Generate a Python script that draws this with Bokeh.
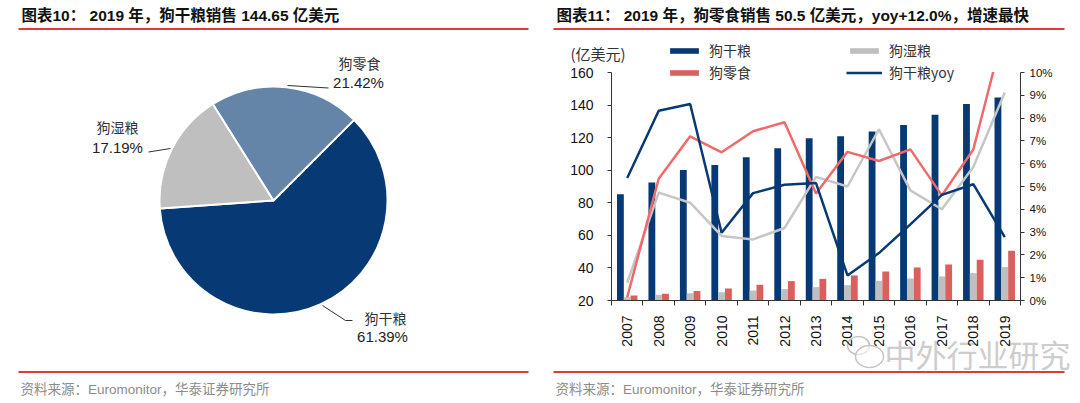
import numpy as np
from bokeh.plotting import figure
from bokeh.layouts import row
from bokeh.models import (Range1d, LinearAxis, FixedTicker, PrintfTickFormatter,
                          Legend, LegendItem, ColumnDataSource, BoxAnnotation)
from bokeh.transform import dodge
from bokeh.core.properties import value
from bokeh.embed import file_html
from bokeh.resources import INLINE

# ---------------- data ----------------
pie_labels = ["狗干粮", "狗湿粮", "狗零食"]
pie_shares = [61.39, 17.19, 21.42]

years = ["2007", "2008", "2009", "2010", "2011", "2012", "2013",
         "2014", "2015", "2016", "2017", "2018", "2019"]
dry = [85.2, 92.4, 100.1, 103.2, 108.0, 113.5, 119.6, 120.9, 123.7, 127.8, 134.0, 140.7, 144.65]
wet = [22.0, 23.5, 24.5, 25.1, 26.2, 27.0, 28.2, 29.4, 32.1, 33.5, 34.8, 36.8, 40.5]
snack = [23.0, 24.1, 25.9, 27.4, 29.6, 31.9, 33.3, 35.4, 37.8, 40.3, 42.1, 45.0, 50.5]
dry_yoy = [5.37, 8.32, 8.62, 2.97, 4.71, 5.08, 5.15, 1.10, 2.08, 3.34, 4.63, 5.10, 2.78]
wet_yoy = [0.78, 4.73, 4.29, 2.83, 2.68, 3.18, 5.42, 5.00, 7.51, 4.83, 4.00, 5.86, 9.12]
snack_yoy = [0.15, 5.34, 7.20, 6.50, 7.42, 7.82, 4.69, 6.52, 6.12, 6.63, 4.61, 6.62, 12.0]

title_left = "图表10：  2019 年，狗干粮销售 144.65 亿美元"
title_right = "图表11：  2019 年，狗零食销售 50.5 亿美元，yoy+12.0%，增速最快"
source_text = "资料来源：Euromonitor，华泰证券研究所"
unit_text = "(亿美元)"
watermark = "中外行业研究"

# ---------------- style ----------------
CJK = "Noto Sans CJK SC"
LAT = "Liberation Sans, Noto Sans CJK SC"
NAVY = "#073A74"
STEEL = "#6484A8"
GRAY = "#BFBFBF"
RED_BAR = "#D9605C"
RED_LINE = "#EF6B6B"
GRAY_LINE = "#C6C6C6"
RULE = "#DC3C32"
AXIS = "#333333"
TITLE_SIZE = "15.5px"
SRC_SIZE = "13.5px"

# ---------------- left panel (pie), pixel coordinates ----------------
left = figure(width=540, height=403, x_range=Range1d(0, 540), y_range=Range1d(-403, 0),
              output_backend="svg", toolbar_location=None, min_border=0,
              x_axis_location=None, y_axis_location=None)
left.grid.visible = False
left.outline_line_color = None

left.text(x=[21], y=[-15], text=[title_left], text_font=value(LAT), text_font_style="bold",
          text_font_size=TITLE_SIZE, text_baseline="middle", text_color="#111111")
left.segment(x0=[18, 18], y0=[-28.5, -371.5], x1=[528, 528], y1=[-28.5, -371.5],
             line_color=RULE, line_width=2)
left.text(x=[20], y=[-389], text=[source_text], text_font=value(LAT), text_font_size=SRC_SIZE,
          text_baseline="middle", text_color="#8C8C8C")

frac = np.array(pie_shares) / 100.0
cum = np.cumsum(frac)
start0 = np.deg2rad(45)
starts = start0 - 2 * np.pi * (cum - frac)
ends = start0 - 2 * np.pi * cum
left.wedge(x=273, y=-200, radius=114, start_angle=list(starts), end_angle=list(ends),
           direction="clock", fill_color=[NAVY, GRAY, STEEL], line_color="white", line_width=2)

lab_x = [385, 117, 359]
lab_y = [-317, -126, -62]
pct_x = [382, 117, 358]
pct_y = [-336, -147, -82]
left.text(x=lab_x, y=lab_y, text=pie_labels, text_font=value(CJK), text_font_size="14px",
          text_align="center", text_baseline="middle", text_color="#333333")
left.text(x=pct_x, y=pct_y, text=[f"{s:.2f}%" for s in pie_shares], text_font=value(LAT),
          text_font_size="15px", text_align="center", text_baseline="middle", text_color="#222222")
left.multi_line(xs=[[322, 345, 352], [148, 170], [287, 328]],
                ys=[[-305, -320, -320], [-151.5, -148], [-85, -87.5]],
                line_color="#333333", line_width=1)

# ---------------- right panel: one full-frame figure ----------------
PX0 = 540                       # page x of the figure's left edge
FL, FR, FT, FB = 611.0, 1020.0, 72.0, 300.0   # page pixels of the plotting area
n = len(years)
YMIN, YMAX = 20, 160
PMIN, PMAX = 0, 10
CW = (FR - FL) / n


def px2x(px):
    return (px - FL) / CW - 0.5


def py2y(py):
    return YMIN + (FB - py) * (YMAX - YMIN) / (FB - FT)


def py2p(py):
    return PMIN + (FB - py) * (PMAX - PMIN) / (FB - FT)


p = figure(width=540, height=403, x_range=Range1d(px2x(PX0), px2x(PX0 + 540)),
           y_range=Range1d(py2y(403), py2y(0)),
           output_backend="svg", toolbar_location=None, min_border=0,
           x_axis_location=None, y_axis_location=None)
p.extra_y_ranges = {"pct": Range1d(py2p(403), py2p(0))}
p.grid.visible = False
p.outline_line_color = None

src = ColumnDataSource(dict(x=list(range(n)), dry=dry, wet=wet, snack=snack,
                            dry_yoy=dry_yoy, wet_yoy=wet_yoy, snack_yoy=snack_yoy))
W = 0.217
b_dry = p.vbar(x=dodge("x", -W), top="dry", bottom=YMIN, width=W, fill_color=NAVY, line_color=None, source=src)
b_wet = p.vbar(x="x", top="wet", bottom=YMIN, width=W, fill_color=GRAY, line_color=None, source=src)
b_snack = p.vbar(x=dodge("x", W), top="snack", bottom=YMIN, width=W, fill_color=RED_BAR, line_color=None, source=src)

l_wet = p.line("x", "wet_yoy", y_range_name="pct", line_color=GRAY_LINE, line_width=2.5, source=src)
l_snack = p.line("x", "snack_yoy", y_range_name="pct", line_color=RED_LINE, line_width=2.5, source=src)
l_dry = p.line("x", "dry_yoy", y_range_name="pct", line_color=NAVY, line_width=2.5, source=src)

# texts outside the plotting area
p.text(x=[px2x(556)], y=[py2y(15)], text=[title_right], text_font=value(LAT), text_font_style="bold",
       text_font_size=TITLE_SIZE, text_baseline="middle", text_color="#111111")
p.text(x=[px2x(555)], y=[py2y(389)], text=[source_text], text_font=value(LAT), text_font_size=SRC_SIZE,
       text_baseline="middle", text_color="#8C8C8C")
p.text(x=[px2x(570)], y=[py2y(53)], text=[unit_text], text_font=value(CJK), text_font_size="15px",
       text_baseline="middle", text_color="#333333")

# watermark (WeChat-style bubbles + text)
p.ellipse(x=[px2x(858), px2x(869)], y=[py2y(345), py2y(356)], width=[22 / CW, 28 / CW],
          height=[(18) * (YMAX - YMIN) / (FB - FT), (22) * (YMAX - YMIN) / (FB - FT)],
          fill_color="white", fill_alpha=0.6, line_color="#C4C4C4", line_width=1.5)
p.text(x=[px2x(884)], y=[py2y(353)], text=[watermark], text_font=value(CJK), text_font_size="31px",
       text_baseline="middle", text_color="#CDCDCD")

# the plotting area ends at 10 %: hide the part of the snack yoy line above it
p.add_layout(BoxAnnotation(left=px2x(984), right=px2x(FR - 1), top=py2y(23), bottom=py2y(FT - 0.6),
                           fill_color="white", fill_alpha=1, line_color=None))
for yy in (28.5, 371.5):
    p.add_layout(BoxAnnotation(left=px2x(553), right=px2x(1064), top=py2y(yy - 1), bottom=py2y(yy + 1),
                               fill_color=RULE, fill_alpha=1, line_color=None))

# left axis
ya = LinearAxis(ticker=FixedTicker(ticks=list(range(YMIN, YMAX + 1, 20))), bounds=(YMIN, YMAX),
                fixed_location=-0.5)
ya.major_tick_out = 4
ya.major_tick_in = 0
ya.minor_tick_out = 0
ya.minor_tick_in = 0
ya.major_label_standoff = 14
ya.major_label_text_font = LAT
ya.major_label_text_font_size = "14px"
ya.major_label_text_color = "#111111"
ya.axis_line_color = AXIS
ya.major_tick_line_color = AXIS
p.add_layout(ya, "left")

# right axis
ra = LinearAxis(y_range_name="pct", ticker=FixedTicker(ticks=list(range(PMIN, PMAX + 1))),
                bounds=(PMIN, PMAX), fixed_location=n - 0.5,
                formatter=PrintfTickFormatter(format="%d%%"))
ra.major_tick_out = 4
ra.major_tick_in = 0
ra.minor_tick_out = 0
ra.minor_tick_in = 0
ra.major_label_standoff = 5
ra.major_label_text_font = LAT
ra.major_label_text_font_size = "11.5px"
ra.major_label_text_color = "#111111"
ra.axis_line_color = AXIS
ra.major_tick_line_color = AXIS
p.add_layout(ra, "right")

# bottom axis: labels at centres, ticks between categories
xa = LinearAxis(ticker=FixedTicker(ticks=list(range(n)), minor_ticks=[i - 0.5 for i in range(n + 1)]),
                bounds=(-0.5, n - 0.5), fixed_location=YMIN)
xa.major_label_overrides = {i: y for i, y in enumerate(years)}
xa.major_label_orientation = np.pi / 2
xa.major_tick_out = 0
xa.major_tick_in = 0
xa.minor_tick_out = 5
xa.minor_tick_in = 0
xa.minor_tick_line_color = AXIS
xa.major_label_standoff = 10
xa.major_label_text_font = LAT
xa.major_label_text_font_size = "14px"
xa.major_label_text_color = "#111111"
xa.axis_line_color = AXIS
p.add_layout(xa, "below")

legend = Legend(items=[LegendItem(label="狗干粮", renderers=[b_dry]),
                       LegendItem(label="狗湿粮", renderers=[b_wet]),
                       LegendItem(label="狗零食", renderers=[b_snack]),
                       LegendItem(label="狗干粮yoy", renderers=[l_dry])],
                location=(666 - PX0, 403 - 82), orientation="horizontal", ncols=2,
                glyph_width=36, glyph_height=7, label_standoff=7, label_width=135,
                label_height=18, spacing=2, padding=0, margin=0,
                border_line_color=None, background_fill_alpha=0,
                label_text_font=CJK, label_text_font_size="14px", label_text_color="#333333")
p.add_layout(legend)

layout = row(left, p)
open("out.html", "w").write(file_html(layout, INLINE))
